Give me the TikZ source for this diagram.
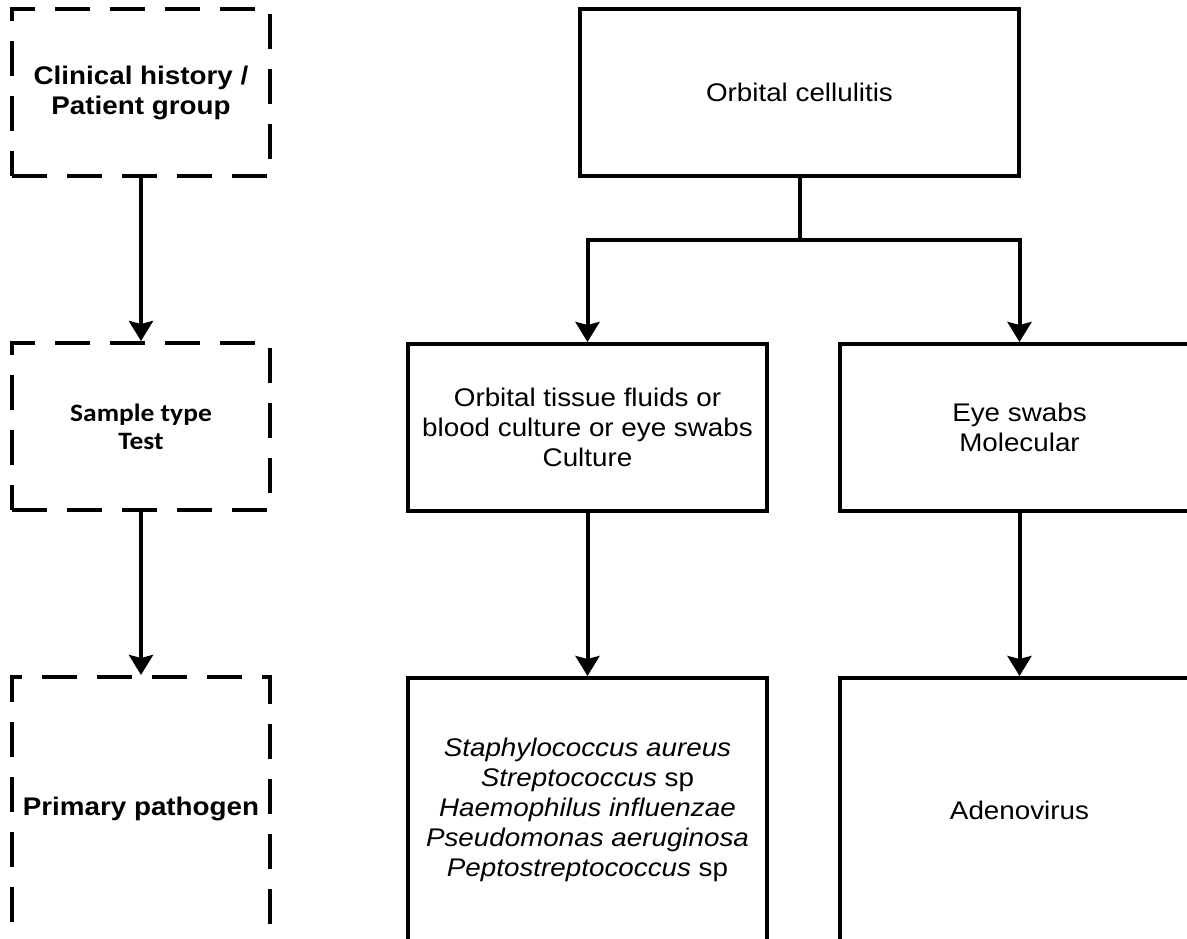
\documentclass[tikz,border=0pt]{standalone}
\usepackage{fontspec}
\setmainfont{Liberation Sans}[FakeStretch=1.09]
\newfontfamily\calibrifont{Carlito}[FakeStretch=1.1]
\usetikzlibrary{arrows.meta,positioning}

\begin{document}
\begin{tikzpicture}[
  x=1pt,y=-1pt,
  box/.style={rectangle,draw,line width=4pt,minimum width=359pt,minimum height=167pt,align=center,font=\fontsize{25.5}{30}\selectfont},
  tall/.style={minimum height=264pt},
  dbox/.style={box,dash pattern=on 35pt off 20pt,minimum width=258pt,font=\fontsize{25.5}{30}\selectfont\bfseries},
  arr/.style={-{Stealth[length=20pt,width=24pt,inset=3pt]},line width=4pt},
  node distance=163pt
]
\useasboundingbox (0,0) rectangle (1187,939);
\clip (0,0) rectangle (1187,939);
% legend column
\node[dbox] (hist) at (141,92.5) {Clinical history /\\Patient group};
\node[dbox,below=of hist,font=\calibrifont\bfseries\fontsize{25}{28}\selectfont] (sample) {Sample type\\Test};
\node[dbox,tall,below=of sample] (pathogen) {Primary pathogen};
% flow chart
\node[box,minimum width=439pt] (orb) at (799.5,92.5) {Orbital cellulitis};
\node[box] (culture) at (587.5,427.5) {Orbital tissue fluids or\\blood culture or eye swabs\\Culture};
\node[box,right=69pt of culture] (molec) {Eye swabs\\Molecular};
\node[box,tall,below=of culture] (bact) {\textit{Staphylococcus aureus}\\\textit{Streptococcus} sp\\\textit{Haemophilus influenzae}\\\textit{Pseudomonas aeruginosa}\\\textit{Peptostreptococcus} sp};
\node[box,tall,below=of molec] (adeno) {Adenovirus};
\coordinate[below=62pt of orb.south] (split);
\draw[line width=4pt] (orb) -- (split);
\draw[arr] (split) -| (culture);
\draw[arr] (split) -| (molec);
\draw[arr] (hist) -- (sample);
\draw[arr] (sample) -- (pathogen);
\draw[arr] (culture) -- (bact);
\draw[arr] (molec) -- (adeno);
\end{tikzpicture}
\end{document}
